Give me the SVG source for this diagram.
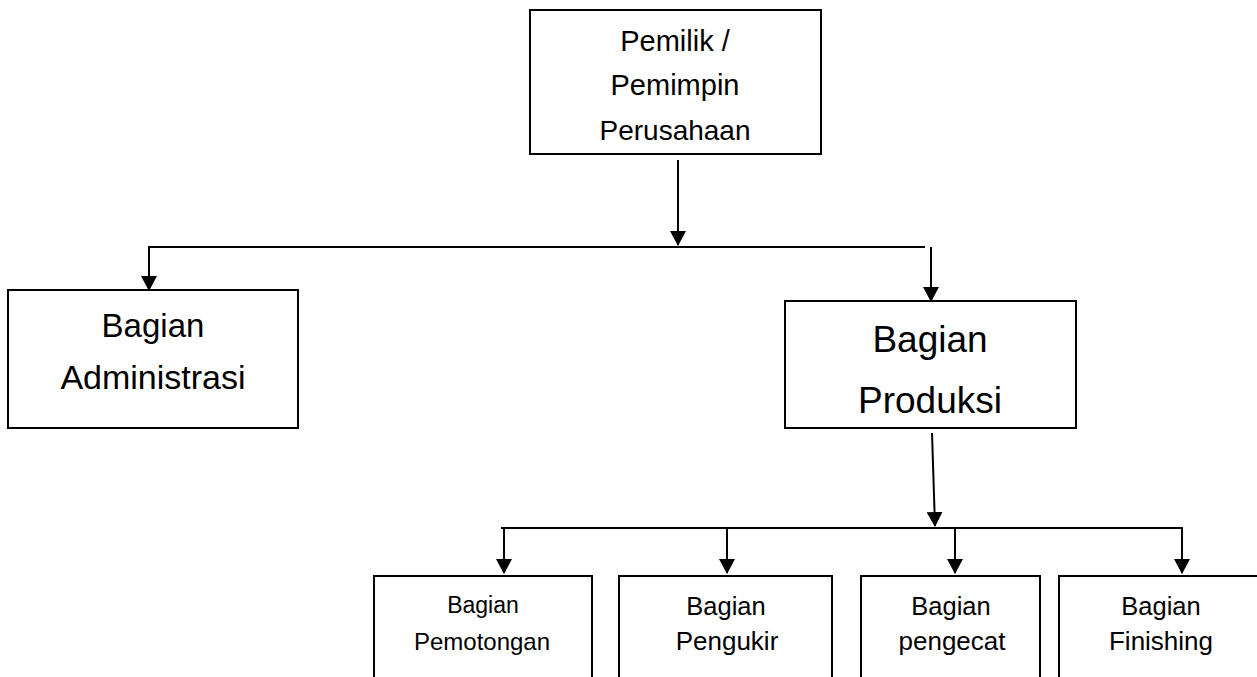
<svg xmlns="http://www.w3.org/2000/svg" width="1257" height="677" viewBox="0 0 1257 677">
<style>
.box{fill:#fff;stroke:#000;stroke-width:2}
.t{font-family:"Liberation Sans",Arial,sans-serif;fill:#000;text-anchor:middle}
.c{fill:none;stroke:#000;stroke-width:2}
.a{marker-end:url(#arr)}
</style>
<defs>
<marker id="arr" markerUnits="userSpaceOnUse" markerWidth="15" markerHeight="16" viewBox="0 0 15 16" refX="14" refY="8" orient="auto">
<path d="M0,0 L15,8 L0,16 Z" fill="#000"/>
</marker>
</defs>
<rect width="1257" height="677" fill="#fff"/>
<g id="connectors">
<line class="c a" x1="678" y1="160" x2="678" y2="245"/>
<line class="c" x1="150" y1="247" x2="925" y2="247"/>
<line class="c a" x1="149" y1="246" x2="149" y2="290"/>
<line class="c a" x1="931" y1="247" x2="931" y2="301"/>
<line class="c a" x1="932" y1="433" x2="935" y2="526"/>
<line class="c" x1="501" y1="528" x2="1181" y2="528"/>
<line class="c a" x1="504" y1="527" x2="504" y2="573"/>
<line class="c a" x1="727" y1="527" x2="727" y2="573"/>
<line class="c a" x1="955" y1="527" x2="955" y2="573"/>
<line class="c a" x1="1182" y1="527" x2="1182" y2="573"/>
</g>
<g id="pemilik">
<rect class="box" x="530" y="10" width="291" height="144"/>
<text class="t" x="675" y="51" font-size="29">Pemilik /</text>
<text class="t" x="675" y="95" font-size="29">Pemimpin</text>
<text class="t" x="675" y="140" font-size="28">Perusahaan</text>
</g>
<g id="administrasi">
<rect class="box" x="8" y="290" width="290" height="138"/>
<text class="t" x="153" y="337" font-size="33">Bagian</text>
<text class="t" x="153" y="389" font-size="34">Administrasi</text>
</g>
<g id="produksi">
<rect class="box" x="785" y="301" width="291" height="127"/>
<text class="t" x="930" y="352" font-size="37">Bagian</text>
<text class="t" x="930" y="413" font-size="37">Produksi</text>
</g>
<g id="pemotongan">
<rect class="box" x="374" y="576" width="218" height="130"/>
<text class="t" x="483" y="613" font-size="23">Bagian</text>
<text class="t" x="482" y="650" font-size="24">Pemotongan</text>
</g>
<g id="pengukir">
<rect class="box" x="619" y="576" width="213" height="130"/>
<text class="t" x="726" y="615" font-size="25.5">Bagian</text>
<text class="t" x="727" y="650" font-size="26">Pengukir</text>
</g>
<g id="pengecat">
<rect class="box" x="861" y="576" width="179" height="130"/>
<text class="t" x="951" y="615" font-size="25.5">Bagian</text>
<text class="t" x="952" y="650" font-size="26">pengecat</text>
</g>
<g id="finishing">
<rect class="box" x="1059" y="576" width="220" height="130"/>
<text class="t" x="1161" y="615" font-size="25.5">Bagian</text>
<text class="t" x="1161" y="650" font-size="26">Finishing</text>
</g>
</svg>
